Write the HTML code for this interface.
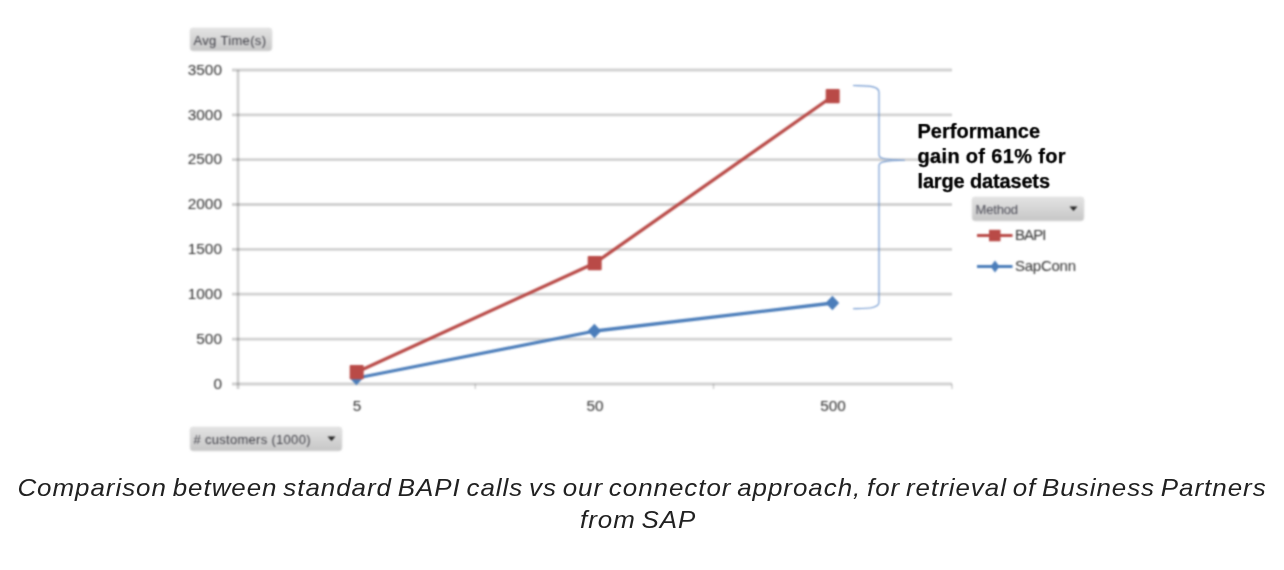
<!DOCTYPE html>
<html lang="en">
<head>
<meta charset="utf-8">
<title>Comparison chart</title>
<style>
html,body{margin:0;padding:0;background:#fff;}
body{width:1284px;height:570px;position:relative;overflow:hidden;font-family:"Liberation Sans",sans-serif;}
#chart{position:absolute;left:0;top:0;width:1284px;height:470px;display:block;}
#chart text{font-family:"Liberation Sans",sans-serif;}
.cap{position:absolute;left:0;top:472px;width:1284px;text-align:center;font-style:italic;font-size:24px;line-height:32px;color:#212121;letter-spacing:0.9px;word-spacing:-2.2px;white-space:nowrap;transform:scaleX(1.08);transform-origin:642px 0;}
</style>
</head>
<body>
<svg id="chart" width="1284" height="470" viewBox="0 0 1284 470">
<defs>
<filter id="b" x="-2%" y="-2%" width="104%" height="104%" color-interpolation-filters="sRGB"><feConvolveMatrix order="5" kernelMatrix="0.00205 0.01100 0.01920 0.01100 0.00205 0.01100 0.05895 0.10290 0.05895 0.01100 0.01920 0.10290 0.17961 0.10290 0.01920 0.01100 0.05895 0.10290 0.05895 0.01100 0.00205 0.01100 0.01920 0.01100 0.00205" edgeMode="none" preserveAlpha="false"/></filter>
<filter id="b2" x="-2%" y="-2%" width="104%" height="104%" color-interpolation-filters="sRGB"><feConvolveMatrix order="5" kernelMatrix="0.00001 0.00057 0.00203 0.00057 0.00001 0.00057 0.03185 0.11363 0.03185 0.00057 0.00203 0.11363 0.40539 0.11363 0.00203 0.00057 0.03185 0.11363 0.03185 0.00057 0.00001 0.00057 0.00203 0.00057 0.00001" edgeMode="none" preserveAlpha="false"/></filter>
<linearGradient id="bg" x1="0" y1="0" x2="0" y2="1"><stop offset="0" stop-color="#e3e3e3"/><stop offset="1" stop-color="#c6c6c6"/></linearGradient>
</defs>
<g filter="url(#b)">
<!-- gridlines -->
<g stroke="#000" stroke-opacity="0.18" stroke-width="2.8" fill="none">
<line x1="232" y1="70" x2="952" y2="70"/>
<line x1="232" y1="114.8" x2="952" y2="114.8"/>
<line x1="232" y1="159.7" x2="952" y2="159.7"/>
<line x1="232" y1="204.5" x2="952" y2="204.5"/>
<line x1="232" y1="249.4" x2="952" y2="249.4"/>
<line x1="232" y1="294.2" x2="952" y2="294.2"/>
<line x1="232" y1="339.1" x2="952" y2="339.1"/>
<line x1="232" y1="384" x2="952" y2="384"/>
<line x1="238" y1="70" x2="238" y2="389"/>
<line x1="475.300" y1="384" x2="475.300" y2="389" stroke-width="1.5"/>
<line x1="713.500" y1="384" x2="713.500" y2="389" stroke-width="1.5"/>
<line x1="952" y1="384" x2="952" y2="389" stroke-width="1.5"/>
</g>
<!-- y labels -->
<g font-size="15.4" fill="#2e2e2e" text-anchor="end">
<text x="222" y="74.7">3500</text>
<text x="222" y="119.5">3000</text>
<text x="222" y="164.4">2500</text>
<text x="222" y="209.2">2000</text>
<text x="222" y="254.1">1500</text>
<text x="222" y="298.9">1000</text>
<text x="222" y="343.8">500</text>
<text x="222" y="388.7">0</text>
</g>
<g font-size="15.4" fill="#2e2e2e" text-anchor="middle">
<text x="357" y="411">5</text>
<text x="595" y="411">50</text>
<text x="833" y="411">500</text>
</g>
<!-- series -->
<polyline points="357,378 595,331 833,303" fill="none" stroke="#4b7dba" stroke-width="3.3" stroke-linejoin="round"/>
<g fill="#4b7dba">
<path d="M356.400 370.800l6.800 7.200l-6.800 7.200l-6.800-7.200z"/>
<path d="M594.400 323.800l6.800 7.200l-6.800 7.200l-6.800-7.200z"/>
<path d="M832.400 295.800l6.800 7.200l-6.800 7.200l-6.800-7.200z"/>
</g>
<polyline points="357,372 595,263 833,96" fill="none" stroke="#b94a47" stroke-width="3.3" stroke-linejoin="round"/>
<g fill="#b94a47">
<rect x="349.700" y="365" width="14" height="14.200" rx="1"/>
<rect x="587.700" y="256" width="14" height="14.200" rx="1"/>
<rect x="825.700" y="89" width="14" height="14.200" rx="1"/>
</g>
<!-- brace -->
<path d="M853 85.500 C 868 86, 879 85.500, 879 92.500 L 879 155 C 879 158.500, 885 159.800, 905 160.200 C 885 160.600, 879 162, 879 165.500 L 879 302 C 879 308.500, 868 308.300, 853 308.800" fill="none" stroke="#6f97cf" stroke-width="1.150"/>
<!-- annotation -->
</g>
<g filter="url(#b2)" font-size="20" font-weight="bold" fill="#000" stroke="#000" stroke-width="0.25">
<text x="917.500" y="138" textLength="122.500" lengthAdjust="spacing">Performance</text>
<text x="917.500" y="162.800" textLength="148" lengthAdjust="spacing">gain of 61% for</text>
<text x="917.500" y="187.500" textLength="132.500" lengthAdjust="spacing">large datasets</text>
</g>
<g filter="url(#b)">
<!-- buttons -->
<rect x="190" y="28" width="82" height="23" rx="3" fill="url(#bg)" stroke="#e4e4e4" stroke-width="1"/>
<text x="193.500" y="45" font-size="13" fill="#3c3c44" textLength="72.500" lengthAdjust="spacing">Avg Time(s)</text>
<rect x="190" y="427" width="152" height="24" rx="3" fill="url(#bg)" stroke="#e4e4e4" stroke-width="1"/>
<text x="193.500" y="444" font-size="13" fill="#3c3c44" textLength="117" lengthAdjust="spacing"># customers (1000)</text>
<path d="M327.500 436.500h8l-4 4.500z" fill="#222"/>
<rect x="972" y="197" width="112" height="24" rx="3" fill="url(#bg)" stroke="#e4e4e4" stroke-width="1"/>
<text x="975.500" y="214" font-size="13" fill="#4a4a55" textLength="42.500" lengthAdjust="spacing">Method</text>
<path d="M1069.500 206.500h8l-4 4.500z" fill="#222"/>
<!-- legend -->
<line x1="977" y1="235.500" x2="1012.500" y2="235.500" stroke="#b94a47" stroke-width="3.100"/>
<rect x="989" y="229.800" width="11.500" height="11.500" fill="#b94a47"/>
<text x="1015" y="240.300" font-size="15" fill="#2e2e2e" textLength="31.500" lengthAdjust="spacing">BAPI</text>
<line x1="977" y1="266.500" x2="1012.500" y2="266.500" stroke="#4b7dba" stroke-width="3.100"/>
<path d="M995 260.500l4.500 6l-4.500 6l-4.500-6z" fill="#4b7dba"/>
<text x="1015" y="271" font-size="15" fill="#2e2e2e" textLength="61" lengthAdjust="spacing">SapConn</text>
</g>
</svg>
<div class="cap">Comparison between standard BAPI calls vs our connector approach, for retrieval of Business Partners<br><span style="position:relative;left:-3.5px">from SAP</span></div>
</body>
</html>
